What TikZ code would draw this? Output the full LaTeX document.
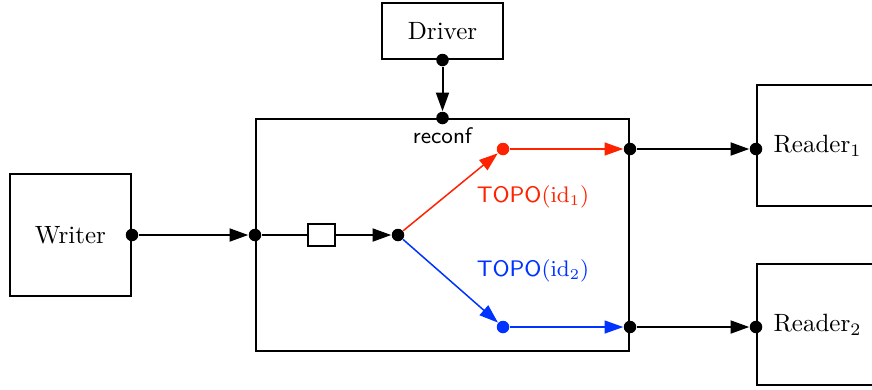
\documentclass[tikz,border=0pt]{standalone}
\usepackage{xcolor}
\usetikzlibrary{arrows.meta,positioning}
\definecolor{topored}{HTML}{FF2200}
\definecolor{topoblue}{HTML}{0033FF}

\tikzset{
  block/.style={draw, line width=0.8pt, minimum width=48.4pt, inner sep=0pt},
  dot/.style={circle, fill, inner sep=0pt, minimum size=5pt},
  flow/.style={line width=0.8pt, -{Triangle[length=7.5pt,width=5.2pt]}},
  branch/.style={line width=0.6pt, -{Triangle[length=7.5pt,width=5.2pt]}},
  topo/.style={font=\small},
}

\begin{document}
\begin{tikzpicture}[x=0.4pt,y=-0.4pt]
      \useasboundingbox (0,0) rectangle (872,389);
      % boxes
      \node[block, minimum height=22.4pt] (driver) at (442.5,31) {Driver};
      \node[block, minimum height=48.8pt] (writer) at (70.5,235) {Writer};
      \node[block, minimum width=149.2pt, minimum height=92.8pt] (topobox) at (442.5,235) {};
      \node[block, minimum height=48.4pt] (reader1) at (817.5,145.5) {Reader$_1$};
      \node[block, minimum height=48.4pt] (reader2) at (817.5,324.5) {Reader$_2$};
      \node[block, minimum width=10.8pt, minimum height=8.8pt] (buf) at (321.5,235) {};
      % ports
      \node[dot] (drvout) at (driver.south) {};
      \node[dot] (reconf) at (topobox.north) {};
      \node[font=\small\sffamily, below=-2.2pt of reconf] (reconflbl) {reconf};
      \node[dot] (wout) at (writer.east) {};
      \node[dot] (win) at (topobox.west) {};
      \node[dot] (split) at (398,235) {};
      \node[dot, topored] (red) at (503,149) {};
      \node[dot, topoblue] (blue) at (503,327) {};
      \node[dot] (out1) at (topobox.east |- red) {};
      \node[dot] (out2) at (topobox.east |- blue) {};
      \node[dot] (in1) at (reader1.west |- out1) {};
      \node[dot] (in2) at (reader2.west |- out2) {};
      % labels
      \node[topo, text=topored] (lbl1) at (533,197) {\textsf{TOPO}$(\mathrm{id}_1)$};
      \node[topo, text=topoblue] (lbl2) at (533,271) {\textsf{TOPO}$(\mathrm{id}_2)$};
      % connectors
      \draw[flow] (drvout) -- (reconf);
      \draw[flow] (wout) -- (win);
      \draw[line width=0.8pt] (win) -- (buf);
      \draw[flow] (buf) -- (split);
      \draw[branch, topored] (split) -- (red);
      \draw[branch, topored] (red) -- (out1);
      \draw[branch, topoblue] (split) -- (blue);
      \draw[branch, topoblue] (blue) -- (out2);
      \draw[flow] (out1) -- (in1);
      \draw[flow] (out2) -- (in2);
    \end{tikzpicture}
\end{document}
